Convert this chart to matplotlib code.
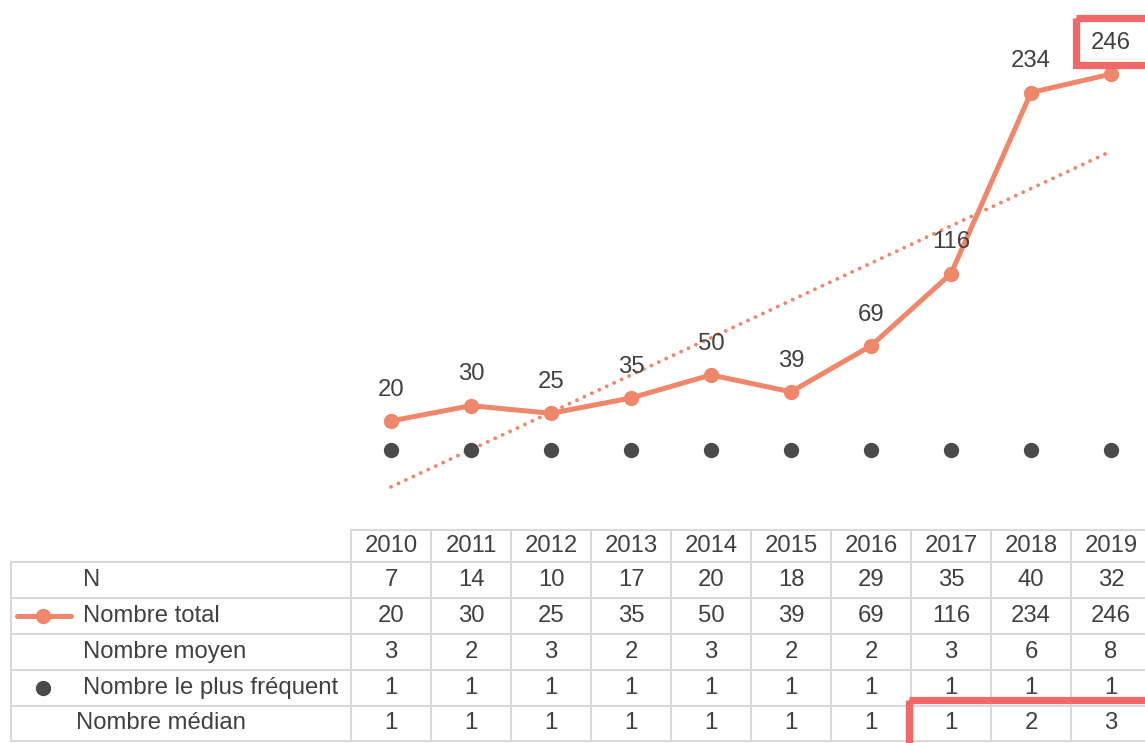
# -*- coding: utf-8 -*-
"""
Line chart with Excel-style data table underneath
"""

import matplotlib
matplotlib.use('Agg')
import matplotlib.pyplot as plt
import numpy as np
from matplotlib.patches import Rectangle

matplotlib.rcParams['font.family'] = ['Liberation Sans', 'DejaVu Sans']

years = ['2010', '2011', '2012', '2013', '2014', '2015', '2016', '2017', '2018', '2019']
n_values = [7, 14, 10, 17, 20, 18, 29, 35, 40, 32]
total = [20, 30, 25, 35, 50, 39, 69, 116, 234, 246]
moyen = [3, 2, 3, 2, 3, 2, 2, 3, 6, 8]
frequent = [1, 1, 1, 1, 1, 1, 1, 1, 1, 1]
median = [1, 1, 1, 1, 1, 1, 1, 1, 2, 3]
row_names = ['N', 'Nombre total', 'Nombre moyen', 'Nombre le plus fréquent', 'Nombre médian']
rows = [n_values, total, moyen, frequent, median]

# colours
lineCol = "#F0866A"
dotCol = "#4A4A4A"
textCol = "#404040"
gridCol = "#D9D9D9"
boxCol = "#F06868"
fs = 17.2

W, H = 1145, 743
fig = plt.figure(figsize=(W/100, H/100), dpi=100)

# layout in pixels
x0_px, col_px = 391, 80      # centre of first column, column width
y0_px, unit_px = 451.7, 1.535  # pixel row of value 0, pixels per unit

ax = fig.add_axes([0, 0, 1, 1])
ax.set_xlim(-x0_px/col_px, (W - x0_px)/col_px)
ax.set_ylim((y0_px - H)/unit_px, y0_px/unit_px)
ax.axis('off')

x = np.arange(len(years))

# linear trend of the total
coef = np.polyfit(x, total, 1)
ax.plot(x, np.polyval(coef, x), color=lineCol, lw=2.8,
        linestyle=(0, (0.01, 2.1)), dash_capstyle='round', zorder=2)

# main series
ax.plot(x, total, '-o', color=lineCol, lw=3.6, ms=10, zorder=3)
ax.plot(x, frequent, 'o', color=dotCol, ms=10, zorder=3)

for xi, v in zip(x, total):
    ax.annotate(str(v), (xi, v), xytext=(0, 22.5), textcoords='offset points',
                ha='center', va='center', fontsize=fs, color=textCol)

# table, drawn in pixel coordinates
tab = fig.add_axes([0, 0, 1, 1], facecolor='none')
tab.set_xlim(0, W)
tab.set_ylim(H, 0)
tab.axis('off')

head_top, head_bot = 530, 562.3
row_h = 35.8
left_px = 11
col_left = x0_px - col_px/2
col_right = col_left + col_px*len(years)
n_rows = len(row_names)
table_bot = head_bot + row_h*n_rows

# header grid
tab.plot([col_left, col_right], [head_top, head_top], color=gridCol, lw=1.5)
for i in range(len(years) + 1):
    xc = col_left + i*col_px
    tab.plot([xc, xc], [head_top, table_bot], color=gridCol, lw=1.5)
# body grid
for r in range(n_rows + 1):
    yr = head_bot + r*row_h
    tab.plot([left_px, col_right], [yr, yr], color=gridCol, lw=1.5)
tab.plot([left_px, left_px], [head_bot, table_bot], color=gridCol, lw=1.5)

for i, yr in enumerate(years):
    tab.text(x0_px + i*col_px, (head_top + head_bot)/2, yr, ha='center',
             va='center', fontsize=fs, color=textCol)

for r, (name, vals) in enumerate(zip(row_names, rows)):
    yc = head_bot + (r + 0.5)*row_h
    lx = 76 if r == n_rows - 1 else 83
    tab.text(lx, yc, name, ha='left', va='center', fontsize=fs, color=textCol)
    for i, v in enumerate(vals):
        tab.text(x0_px + i*col_px, yc, str(v), ha='center', va='center',
                 fontsize=fs, color=textCol)

# legend keys inside the table
yk = head_bot + 1.5*row_h
tab.plot([17, 71], [yk, yk], color=lineCol, lw=3.6, solid_capstyle='round')
tab.plot([43], [yk], 'o', color=lineCol, ms=10)
yk = head_bot + 3.5*row_h
tab.plot([43], [yk], 'o', color=dotCol, ms=10)

# highlight boxes
tab.add_patch(Rectangle((1075.5, 18.3), 120, 46.7, fill=False,
                        edgecolor=boxCol, lw=5.2, zorder=6))
tab.add_patch(Rectangle((909, 700), 300, 100, fill=False,
                        edgecolor=boxCol, lw=5.2, zorder=6))

fig.savefig("out.png", dpi=100)
plt.close(fig)
